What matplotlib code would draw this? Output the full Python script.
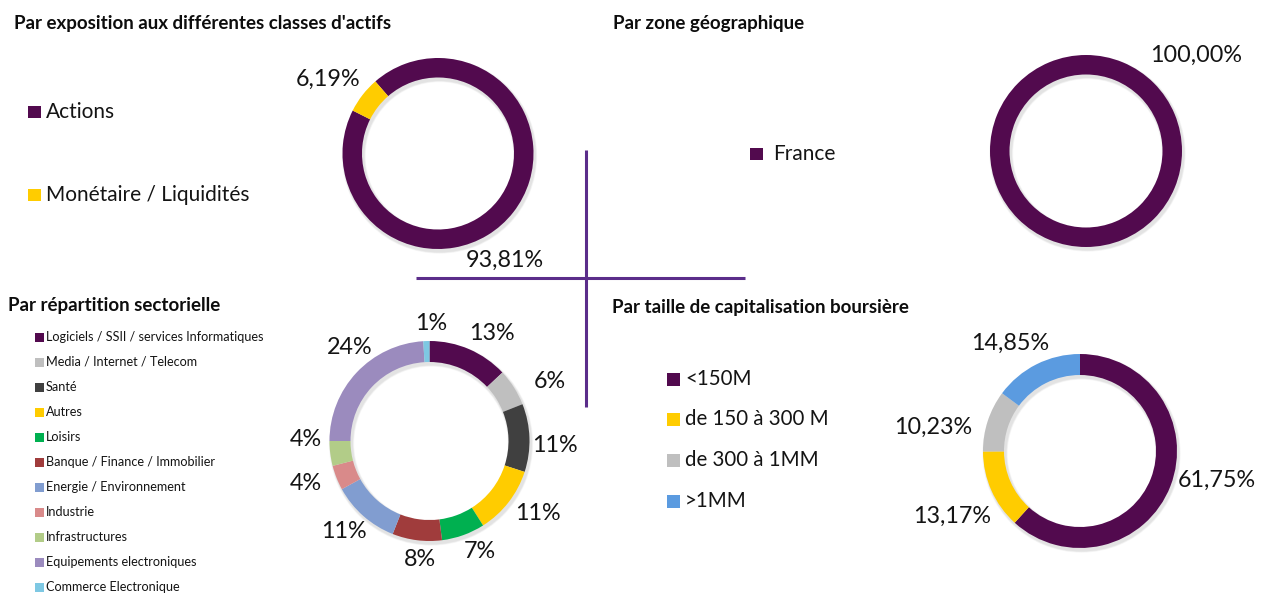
import matplotlib
matplotlib.use("Agg")
import matplotlib.pyplot as plt
from matplotlib.patches import Rectangle

# ---------------- data ----------------
asset_labels = ["Actions", "Monétaire / Liquidités"]
asset_values = [93.81, 6.19]
asset_texts = ["93,81%", "6,19%"]

geo_labels = ["France"]
geo_values = [100.0]
geo_texts = ["100,00%"]

sector_labels = ["Logiciels / SSII / services Informatiques", "Media / Internet / Telecom",
                 "Santé", "Autres", "Loisirs", "Banque / Finance / Immobilier",
                 "Energie / Environnement", "Industrie", "Infrastructures",
                 "Equipements electroniques", "Commerce Electronique"]
sector_values = [13, 6, 11, 11, 7, 8, 11, 4, 4, 24, 1]
sector_texts = ["13%", "6%", "11%", "11%", "7%", "8%", "11%", "4%", "4%", "24%", "1%"]

cap_labels = ["<150M", "de 150 à 300 M", "de 300 à 1MM", ">1MM"]
cap_values = [61.75, 13.17, 10.23, 14.85]
cap_texts = ["61,75%", "13,17%", "10,23%", "14,85%"]

# ---------------- style ----------------
PURPLE = "#520A4E"
YELLOW = "#FFCC00"
asset_colors = [PURPLE, YELLOW]
geo_colors = [PURPLE]
sector_colors = ["#520A4E", "#BFBFBF", "#404040", "#FFCC00", "#00B050", "#A03C3C",
                 "#819DD0", "#D98A8A", "#B2CC88", "#9B8BBE", "#7EC8E3"]
cap_colors = [PURPLE, YELLOW, "#BFBFBF", "#5B9BE0"]

W, H = 1261, 593
FONT = "Lato"
plt.rcParams["font.family"] = [FONT, "DejaVu Sans"]

fig = plt.figure(figsize=(W / 100, H / 100), dpi=100)
ax = fig.add_axes([0, 0, 1, 1])


def Y(y):
    return H - y


def donut(values, colors, cx, cy, r, width, startangle):
    # soft shadow
    for i, a in enumerate([0.04, 0.04, 0.03]):
        ax.pie([1], colors=["#000000"], radius=r + 1 + i * 0.6, center=(cx + 1.5, Y(cy) - 2.5),
               wedgeprops=dict(width=width + 2 + i * 1.2, edgecolor="none", alpha=a), frame=True)
    wedges, _ = ax.pie(values, colors=colors, startangle=startangle, counterclock=False,
                       radius=r, center=(cx, Y(cy)),
                       wedgeprops=dict(width=width, edgecolor="none", linewidth=0), frame=True)
    return wedges


def labels_at(texts, positions, size=16.8):
    for t, (x, y) in zip(texts, positions):
        ax.text(x, Y(y), t, ha="center", va="center", fontsize=size, color="#141414")


def legend(items, colors, x_sq, ys, sq, x_txt, size, color="#141414"):
    for lab, c, y in zip(items, colors, ys):
        ax.add_patch(Rectangle((x_sq, Y(y) - sq / 2), sq, sq, facecolor=c, edgecolor="none"))
        ax.text(x_txt, Y(y), lab, ha="left", va="center", fontsize=size, color=color)


TITLE = dict(ha="left", va="center", fontsize=13.5, fontweight="bold", color="#0d0d0d")

# ---- asset classes ----
donut(asset_values, asset_colors, 438, 153.5, 95.5, 19.5, 131)
labels_at(asset_texts, [(505, 260), (328, 79)])
legend(asset_labels, asset_colors, 28, [112, 195], 12.5, 46, 15.0)
ax.text(14, Y(23), "Par exposition aux différentes classes d'actifs", **TITLE)

# ---- geography ----
donut(geo_values, geo_colors, 1086, 151, 96, 19.5, 90)
labels_at(geo_texts, [(1196, 55)])
legend(geo_labels, geo_colors, 750, [154], 12.5, 773, 15.0)
ax.text(613, Y(24), "Par zone géographique", **TITLE)

# ---- sectors ----
donut(sector_values, sector_colors, 429.5, 441, 100, 21, 90)
labels_at(sector_texts, [(492, 334), (550, 382), (555, 446), (538, 513), (480, 551),
                         (420, 560), (344, 531), (306, 483), (306, 440), (350, 348), (431, 323)])
legend(sector_labels, sector_colors, 35, [337 + 25 * i for i in range(len(sector_labels))],
       9, 46, 9.1)
ax.text(8, Y(305), "Par répartition sectorielle", **TITLE)

# ---- market cap ----
donut(cap_values, cap_colors, 1080, 451, 97, 21, 90)
labels_at(cap_texts, [(1217, 480), (952, 516), (933, 427), (1010, 343)])
legend(cap_labels, cap_colors, 667, [379, 419, 460, 501], 13, 685, 14.8)
ax.text(612, Y(308), "Par taille de capitalisation boursière", **TITLE)

# ---- separator cross ----
ax.plot([585.5, 585.5], [Y(150), Y(407)], color="#5B2D8A", lw=2.2, solid_capstyle="butt")
ax.plot([416, 745], [Y(278), Y(278)], color="#5B2D8A", lw=2.2, solid_capstyle="butt")

ax.set_xlim(0, W)
ax.set_ylim(0, H)
ax.set_aspect("equal")
ax.axis("off")
fig.savefig("out.png", dpi=100)
